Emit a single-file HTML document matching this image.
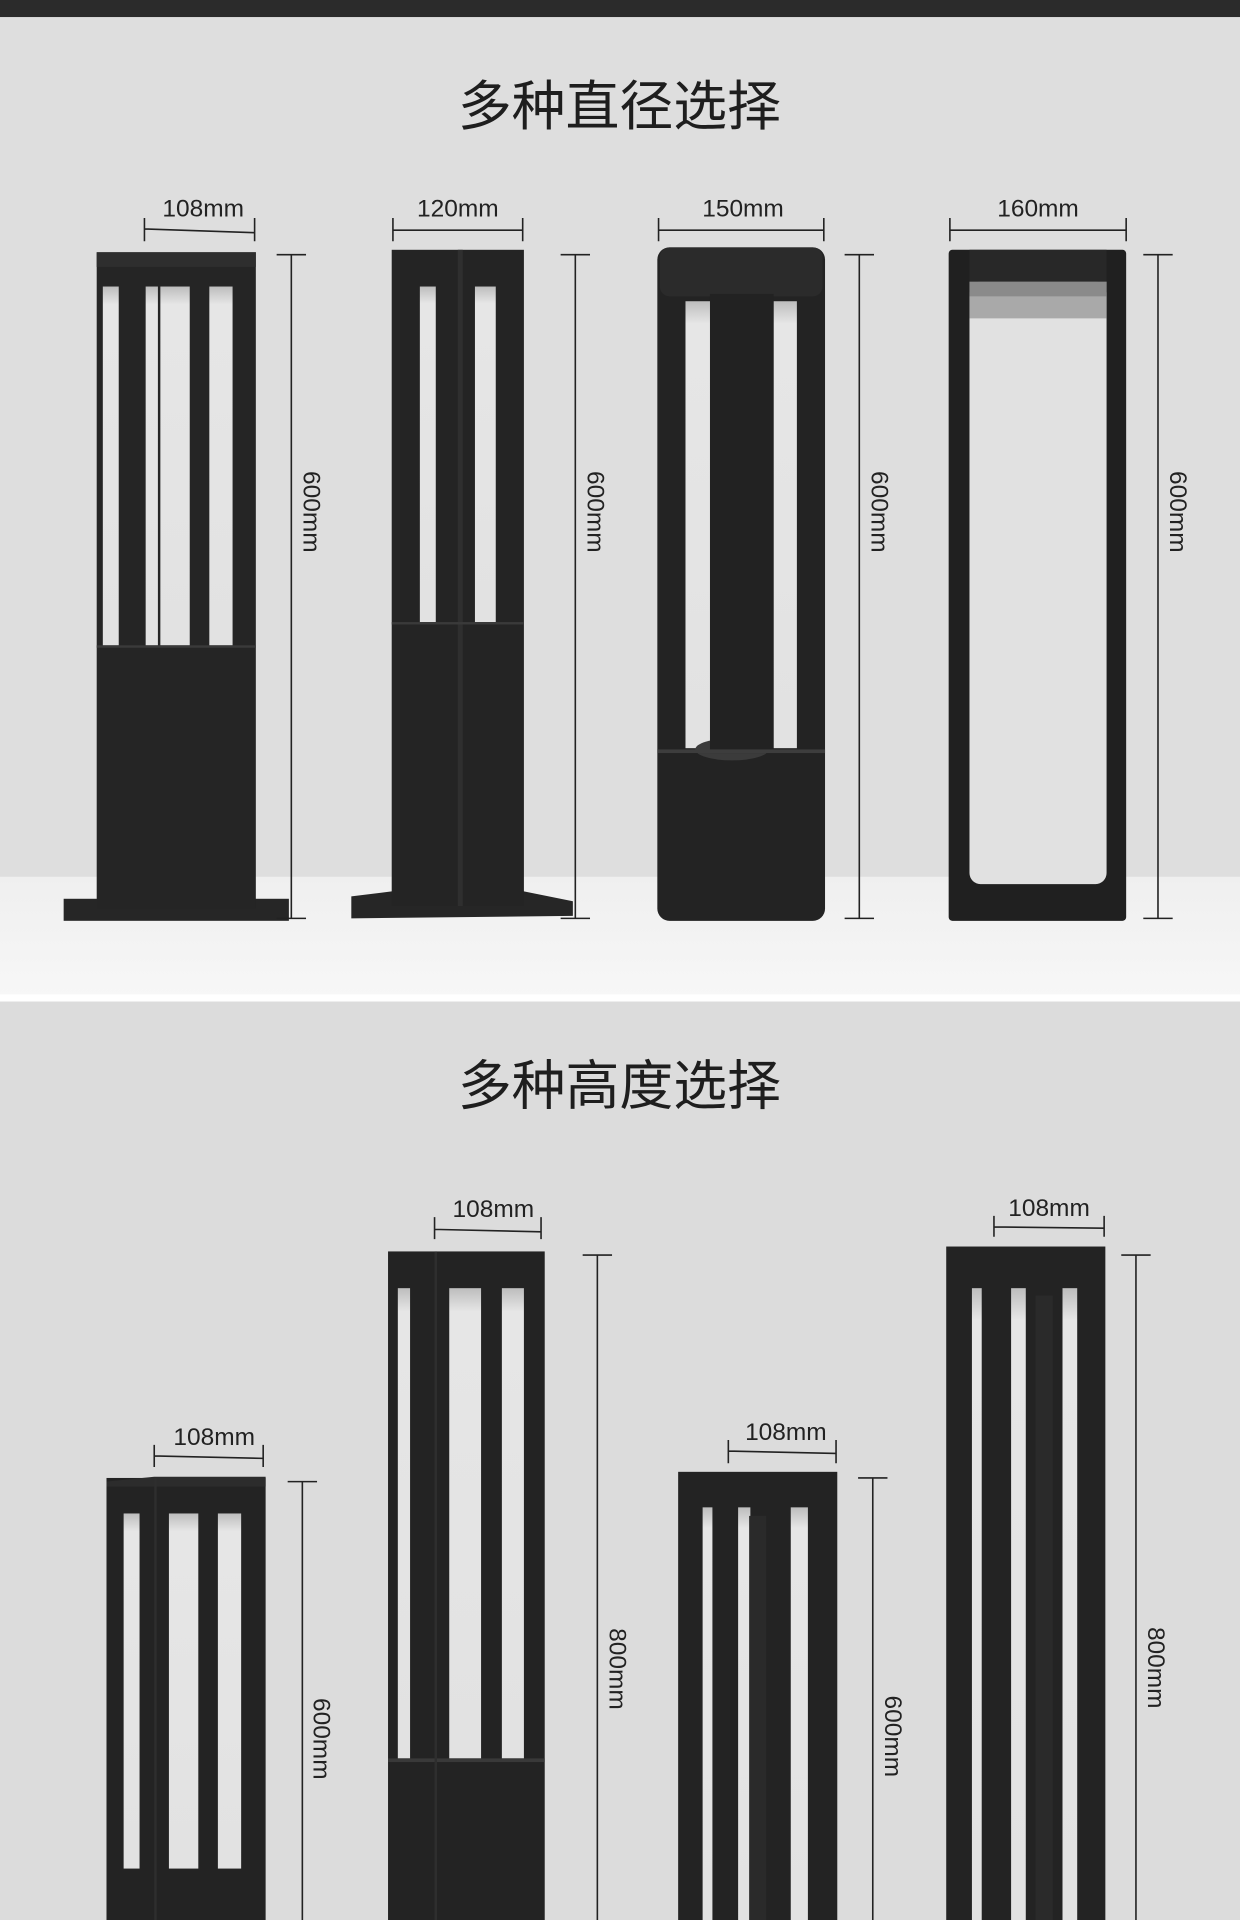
<!DOCTYPE html>
<html><head><meta charset="utf-8"><style>
html,body{margin:0;padding:0;width:1240px;height:1920px;overflow:hidden;background:#ddd}
svg{display:block}
text{font-family:"Liberation Sans","Noto Sans CJK SC",sans-serif;fill:#222}
.t{font-size:44px;fill:#1e1e1e}
.d{font-size:20px}
.l{stroke:#222;stroke-width:1.3;fill:none}
</style></head><body>
<svg width="1240" height="1920" viewBox="0 0 1013 1568" preserveAspectRatio="none" xmlns="http://www.w3.org/2000/svg">
<defs>
<linearGradient id="floor" x1="0" y1="0" x2="0" y2="1"><stop offset="0" stop-color="#efefef"/><stop offset="1" stop-color="#f7f7f7"/></linearGradient>
<linearGradient id="slot" x1="0" y1="0" x2="0" y2="1"><stop offset="0" stop-color="#bdbdbd"/><stop offset="0.05" stop-color="#e6e6e6"/><stop offset="1" stop-color="#e2e2e2"/></linearGradient>
</defs>
<rect x="0" y="0" width="1013" height="1568" fill="#dcdcdc"/>
<rect x="0" y="0" width="1013" height="14" fill="#2b2b2b"/>
<rect x="0" y="14" width="1013" height="702" fill="#dedede"/>
<rect x="0" y="716" width="1013" height="98" fill="url(#floor)"/>
<rect x="0" y="812" width="1013" height="6" fill="#ffffff"/>
<rect x="0" y="818" width="1013" height="750" fill="#dcdcdc"/>

<text class="t" x="506" y="102" text-anchor="middle">多种直径选择</text>

<!-- Lamp 1 -->
<rect x="52" y="734" width="184" height="18" fill="#262626"/>
<rect x="79" y="206" width="130" height="536" fill="#252525"/>
<rect x="79" y="206" width="130" height="12" fill="#2e2e2e"/>
<rect x="84" y="234" width="13" height="293" fill="url(#slot)"/>
<rect x="131" y="234" width="24" height="293" fill="url(#slot)"/>
<rect x="171" y="234" width="19" height="293" fill="url(#slot)"/>
<rect x="119" y="234" width="10" height="293" fill="url(#slot)"/>
<rect x="79" y="527" width="130" height="2" fill="#3a3a3a"/>
<!-- dims 1 -->
<text class="d" x="166" y="177" text-anchor="middle">108mm</text>
<path class="l" d="M118 178V197M208 178V197M118 187L208 190"/>
<path class="l" d="M238 208V750M226 208H250M226 750H250"/>
<text class="d" transform="translate(248,418) rotate(90)" text-anchor="middle">600mm</text>

<!-- Lamp 2 -->
<polygon points="287,732 320,728 428,728 468,736 468,748 287,750" fill="#262626"/>
<rect x="320" y="204" width="108" height="536" fill="#242424"/>
<rect x="374" y="204" width="4" height="536" fill="#2f2f2f"/>
<rect x="343" y="234" width="13" height="274" fill="url(#slot)"/>
<rect x="388" y="234" width="17" height="274" fill="url(#slot)"/>
<rect x="320" y="508" width="108" height="2" fill="#3a3a3a"/>
<text class="d" x="374" y="177" text-anchor="middle">120mm</text>
<path class="l" d="M321 178V197M427 178V197M321 188H427"/>
<path class="l" d="M470 208V750M458 208H482M458 750H482"/>
<text class="d" transform="translate(480,418) rotate(90)" text-anchor="middle">600mm</text>

<!-- Lamp 3 -->
<rect x="537" y="202" width="137" height="550" rx="10" fill="#232323"/>
<rect x="539" y="202" width="133" height="40" rx="8" fill="#2b2b2b"/>
<rect x="560" y="246" width="22" height="365" fill="url(#slot)"/>
<rect x="632" y="246" width="19" height="365" fill="url(#slot)"/>
<ellipse cx="598" cy="612" rx="30" ry="9" fill="#3b3b3b"/>
<rect x="580" y="240" width="52" height="375" fill="#222"/>
<rect x="537" y="612" width="137" height="3" fill="#3d3d3d"/>
<text class="d" x="607" y="177" text-anchor="middle">150mm</text>
<path class="l" d="M538 178V197M673 178V197M538 188H673"/>
<path class="l" d="M702 208V750M690 208H714M690 750H714"/>
<text class="d" transform="translate(712,418) rotate(90)" text-anchor="middle">600mm</text>

<!-- Lamp 4 -->
<rect x="775" y="204" width="145" height="548" rx="3" fill="#202020"/>
<rect x="792" y="230" width="112" height="492" rx="9" fill="#e1e1e1"/>
<rect x="792" y="230" width="112" height="30" fill="#a9a9a9"/>
<rect x="792" y="230" width="112" height="12" fill="#8a8a8a"/>
<rect x="792" y="204" width="112" height="26" fill="#282828"/>
<text class="d" x="848" y="177" text-anchor="middle">160mm</text>
<path class="l" d="M776 178V197M920 178V197M776 188H920"/>
<path class="l" d="M946 208V750M934 208H958M934 750H958"/>
<text class="d" transform="translate(956,418) rotate(90)" text-anchor="middle">600mm</text>

<!-- Section 2 -->
<text class="t" x="506" y="902" text-anchor="middle">多种高度选择</text>

<!-- A -->
<rect x="87" y="1207" width="130" height="361" fill="#232323"/>
<polygon points="87,1210 126,1206 217,1206 217,1214 87,1214" fill="#2c2c2c"/>
<rect x="101" y="1236" width="13" height="290" fill="url(#slot)"/>
<rect x="138" y="1236" width="24" height="290" fill="url(#slot)"/>
<rect x="178" y="1236" width="19" height="290" fill="url(#slot)"/>
<rect x="126" y="1207" width="2" height="361" fill="#2e2e2e"/>
<text class="d" x="175" y="1180" text-anchor="middle">108mm</text>
<path class="l" d="M126 1180V1198M215 1180V1198M126 1189L215 1191"/>
<path class="l" d="M247 1210V1568M235 1210H259"/>
<text class="d" transform="translate(256,1420) rotate(90)" text-anchor="middle">600mm</text>

<!-- B -->
<rect x="317" y="1022" width="128" height="546" fill="#232323"/>
<rect x="325" y="1052" width="10" height="384" fill="url(#slot)"/>
<rect x="367" y="1052" width="26" height="384" fill="url(#slot)"/>
<rect x="410" y="1052" width="18" height="384" fill="url(#slot)"/>
<rect x="317" y="1436" width="128" height="3" fill="#393939"/>
<rect x="355" y="1022" width="2" height="546" fill="#2e2e2e"/>
<text class="d" x="403" y="994" text-anchor="middle">108mm</text>
<path class="l" d="M355 994V1012M442 994V1012M355 1004L442 1006"/>
<path class="l" d="M488 1025V1568M476 1025H500"/>
<text class="d" transform="translate(498,1363) rotate(90)" text-anchor="middle">800mm</text>

<!-- C -->
<rect x="554" y="1202" width="130" height="366" fill="#232323"/>
<rect x="574" y="1231" width="8" height="337" fill="url(#slot)"/>
<rect x="603" y="1231" width="10" height="337" fill="url(#slot)"/>
<rect x="646" y="1231" width="14" height="337" fill="url(#slot)"/>
<rect x="612" y="1238" width="14" height="330" fill="#2a2a2a"/>
<text class="d" x="642" y="1176" text-anchor="middle">108mm</text>
<path class="l" d="M595 1176V1195M683 1176V1195M595 1185L683 1187"/>
<path class="l" d="M713 1207V1568M701 1207H725"/>
<text class="d" transform="translate(723,1418) rotate(90)" text-anchor="middle">600mm</text>

<!-- D -->
<rect x="773" y="1018" width="130" height="550" fill="#232323"/>
<rect x="794" y="1052" width="8" height="516" fill="url(#slot)"/>
<rect x="826" y="1052" width="12" height="516" fill="url(#slot)"/>
<rect x="868" y="1052" width="12" height="516" fill="url(#slot)"/>
<rect x="846" y="1058" width="14" height="510" fill="#2a2a2a"/>
<text class="d" x="857" y="993" text-anchor="middle">108mm</text>
<path class="l" d="M812 993V1010M902 993V1010M812 1002L902 1003"/>
<path class="l" d="M928 1025V1568M916 1025H940"/>
<text class="d" transform="translate(938,1362) rotate(90)" text-anchor="middle">800mm</text>
</svg>
</body></html>
